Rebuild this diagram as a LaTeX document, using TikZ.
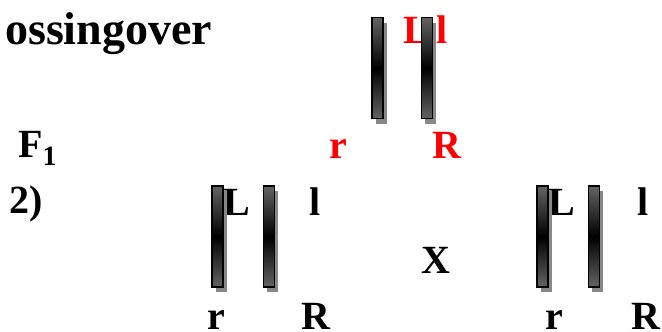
\documentclass[tikz,border=0pt]{standalone}
\usepackage{fontspec}
\setmainfont{Liberation Serif}
\usetikzlibrary{shadows}
\definecolor{barend}{HTML}{646464}
\definecolor{shade}{HTML}{888888}
\tikzset{
  chrom/.style={draw=black, line width=1.6pt, minimum width=11pt, minimum height=101pt,
    inner sep=0pt, top color=barend, bottom color=barend, middle color=black,
    drop shadow={shadow xshift=3.5pt, shadow yshift=-5pt, fill=shade, opacity=1}},
  lbl/.style={anchor=base west, inner sep=0pt, font=\fontsize{40}{40}\selectfont\bfseries},
  redlbl/.style={lbl, text=red},
  heading/.style={anchor=base west, inner sep=0pt, font=\fontsize{46}{46}\selectfont\bfseries}
}
\begin{document}
\begin{tikzpicture}[x=1pt, y=-1pt]
  \useasboundingbox (0,0) rectangle (662,332);
  \clip (0,0) rectangle (662,332);

  % heading and row markers
  \node[heading] (title) at (5,44) {ossingover};
  \node[lbl] (gen) at (18,157) {F\raisebox{-0.22em}{\fontsize{28}{28}\selectfont 1}};
  \node[lbl] (step2) at (9,213) {2)};

  % F1 pair of homologous chromosomes (red alleles)
  \node[redlbl] (tL) at (403,43) {L};
  \node[redlbl] (tl) at (436,43) {l};
  \node[redlbl] (tr) at (329,158) {r};
  \node[redlbl] (tR) at (432,158) {R};
  \node[chrom] (t1) at (377.5,68) {};
  \node[chrom] (t2) at (427,68) {};

  % left parent of the cross
  \node[lbl] (aL) at (223,215) {L};
  \node[lbl] (al) at (309,215) {l};
  \node[lbl] (ar) at (207,329) {r};
  \node[lbl] (aR) at (301,329) {R};
  \node[chrom] (a1) at (217.5,236.5) {};
  \node[chrom] (a2) at (269,236.5) {};

  % cross sign
  \node[lbl] (cross) at (421,273) {X};

  % right parent of the cross
  \node[lbl] (bL) at (548,215) {L};
  \node[lbl] (bl) at (637,215) {l};
  \node[lbl] (br) at (545,329) {r};
  \node[lbl] (bR) at (631,329) {R};
  \node[chrom] (b1) at (542.5,236.5) {};
  \node[chrom] (b2) at (594,236.5) {};
\end{tikzpicture}
\end{document}
